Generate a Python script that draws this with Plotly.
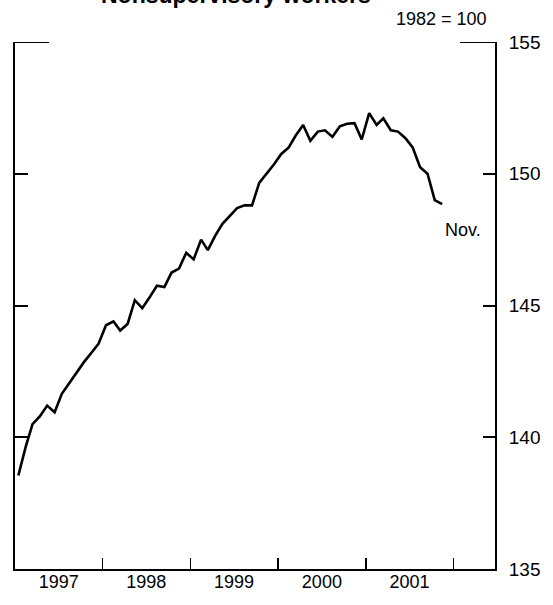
import pandas as pd
import plotly.graph_objects as go

# Monthly data, Jan 1997 - Nov 2001 (1982 = 100)
months = pd.date_range("1997-01-01", periods=59, freq="MS") + pd.Timedelta(days=14)
values = [138.55, 139.65, 140.5, 140.8, 141.2, 140.95, 141.65, 142.05, 142.45, 142.85, 143.2, 143.55,
          144.25, 144.4, 144.05, 144.3, 145.2, 144.9, 145.3, 145.75, 145.7, 146.25, 146.4, 147.0,
          146.75, 147.5, 147.1, 147.65, 148.1, 148.4, 148.7, 148.8, 148.8, 149.65, 150.0, 150.35,
          150.75, 151.0, 151.45, 151.85, 151.25, 151.6, 151.65, 151.4, 151.8, 151.9, 151.92, 151.3,
          152.3, 151.85, 152.1, 151.65, 151.6, 151.35, 151.0, 150.25, 150.0, 149.0, 148.85]

year_ticks = ["1998-01-01", "1999-01-01", "2000-01-01", "2001-01-01", "2002-01-01"]
year_label_pos = ["1997-07-02", "1998-07-02", "1999-07-02", "2000-07-02", "2001-07-02"]
year_labels = ["1997", "1998", "1999", "2000", "2001"]
y_ticks = [135, 140, 145, 150, 155]
y_labels = ["135", "140", "145", "150", "155"]

x_range = ["1997-01-01", "2002-06-23"]
y_range = [135, 155]
FONT = "Liberation Sans, Arial, sans-serif"

fig = go.Figure()
fig.add_trace(go.Scatter(x=months, y=values, mode="lines",
                         line=dict(color="black", width=2.6), hoverinfo="skip",
                         showlegend=False, xaxis="x", yaxis="y"))
# invisible trace to activate the secondary (label) axes
fig.add_trace(go.Scatter(x=months, y=values, mode="lines", opacity=0,
                         line=dict(color="black", width=0), hoverinfo="skip",
                         showlegend=False, xaxis="x2", yaxis="y2"))

fig.update_layout(
    width=553, height=605,
    margin=dict(l=15, r=56, t=41.5, b=36),
    paper_bgcolor="white", plot_bgcolor="white",
    font=dict(family=FONT, color="black"),
    xaxis=dict(type="date", range=x_range, showgrid=False, zeroline=False,
               showline=True, linecolor="black", linewidth=2,
               tickmode="array", tickvals=year_ticks, ticks="inside", ticklen=11,
               tickwidth=1.5, tickcolor="black", showticklabels=False),
    xaxis2=dict(type="date", range=x_range, overlaying="x", side="bottom",
                showgrid=False, zeroline=False, showline=False,
                tickmode="array", tickvals=year_label_pos, ticktext=year_labels,
                ticks="", tickfont=dict(size=18, family=FONT, color="black"),
                anchor="y"),
    yaxis=dict(range=y_range, showgrid=False, zeroline=False,
               showline=True, linecolor="black", linewidth=2,
               tickmode="array", tickvals=y_ticks, ticks="inside", ticklen=13,
               tickwidth=2, tickcolor="black", showticklabels=False),
    yaxis2=dict(range=y_range, overlaying="y", side="right", anchor="x",
                showgrid=False, zeroline=False,
                showline=True, linecolor="black", linewidth=2,
                tickmode="array", tickvals=y_ticks, ticktext=y_labels,
                ticks="inside", ticklen=12, tickwidth=2, tickcolor="black",
                ticklabelstandoff=8,
                tickfont=dict(size=19, family=FONT, color="black")),
)

# longer top ticks at 155 on both sides
fig.add_shape(type="line", xref="paper", yref="y", x0=0, x1=0.071, y0=155, y1=155,
              line=dict(color="black", width=2))
fig.add_shape(type="line", xref="paper", yref="y", x0=0.927, x1=1, y0=155, y1=155,
              line=dict(color="black", width=2))

fig.add_annotation(text="Nonsupervisory workers", xref="paper", yref="paper",
                   x=0.46, y=1.089, xanchor="center", yanchor="middle", showarrow=False,
                   font=dict(size=23, family=FONT, color="black", weight="bold"))
fig.add_annotation(text="1982 = 100", xref="paper", yref="paper",
                   x=0.9876, y=1.0445, xanchor="right", yanchor="middle", showarrow=False,
                   font=dict(size=18, family=FONT, color="black"))
fig.add_annotation(text="Nov.", xref="paper", yref="paper",
                   x=0.934, y=1 - (230 - 41.5) / 527.5,
                   xanchor="center", yanchor="middle", showarrow=False,
                   font=dict(size=18, family=FONT, color="black"))

fig.write_html("out.html",
               config={"displayModeBar": False, "staticPlot": True},
               post_script="document.body.style.margin='0';document.body.style.overflow='hidden';")
